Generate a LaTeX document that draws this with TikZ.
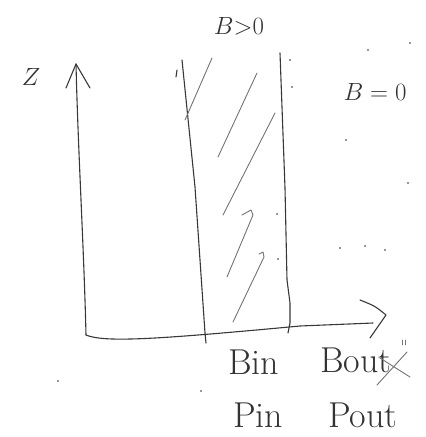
\documentclass[tikz,border=0pt]{standalone}
\begin{document}
\begin{tikzpicture}[x=1pt,y=-1pt,
  ink/.style={draw=black!78, line width=1.1pt, line cap=round, line join=round},
  hatch/.style={draw=black!55, line width=0.9pt, line cap=round, line join=round},
  hand/.style={text=black!80, inner sep=0pt},
  speck/.style={fill=black!55, draw=none}]
\useasboundingbox (0,0) rectangle (426,437);
% axes
\coordinate (O) at (86,335);
\coordinate (ztip) at (76,64);
\coordinate (xend) at (373,323);
\draw[ink] (O) .. controls (84,250) and (78,150) .. (ztip);
\draw[ink] (66,88) -- (ztip) -- (90,88);
\draw[ink] (O) .. controls (105,343) and (160,339) .. (300,326) -- (xend);
\draw[ink] (360,300) .. controls (375,306) .. (386,315) -- (370,338);
% strip boundaries
\draw[ink] (182,60) -- (195,187) -- (205,333) -- (206,343);
\draw[ink] (177,70) -- (176,77);
\draw[ink] (280,53) -- (285,188) -- (287,280) -- (290,303) -- (290,323) -- (288,333);
% hatching
\draw[hatch] (212,58) -- (185,120);
\draw[hatch] (257,73) -- (218,157);
\draw[hatch] (275,113) -- (223,215);
\draw[hatch] (242,215) -- (251,210) -- (253,215) -- (227,277);
\draw[hatch] (259,254) -- (263,252) -- (264,257) -- (233,322);
% labels
\node[hand] (zlab) at (31,77) {\fontsize{42}{42}\selectfont $Z$};
\node[hand] (bpos) at (239,26) {\fontsize{34}{34}\selectfont $B{>}0$};
\node[hand] (bzero) at (375,92) {\fontsize{36}{36}\selectfont $B=0$};
\node[hand, anchor=base west] (bin) at (228,374) {\fontsize{36}{36}\selectfont Bin};
\node[hand, anchor=base west] (bout) at (320,372) {\fontsize{36}{36}\selectfont Bout};
\node[hand, anchor=base west] (pin) at (233,427) {\fontsize{36}{36}\selectfont Pin};
\node[hand, anchor=base west] (pout) at (328,427) {\fontsize{36}{36}\selectfont Pout};
% cross over Bout and small mark
\draw[hatch] (380,358) -- (410,377);
\draw[hatch] (407,352) -- (377,385);
\draw[hatch] (402,340) -- (402,345);
\draw[hatch] (405,340) -- (405,345);
% specks
\foreach \p in {(290,60),(292,87),(368,50),(410,43),(346,140),(408,183),(340,248),(365,246),(385,250),(58,381),(201,391),(277,214),(278,259)}
  \fill[speck] \p circle (1.1);
\end{tikzpicture}
\end{document}
